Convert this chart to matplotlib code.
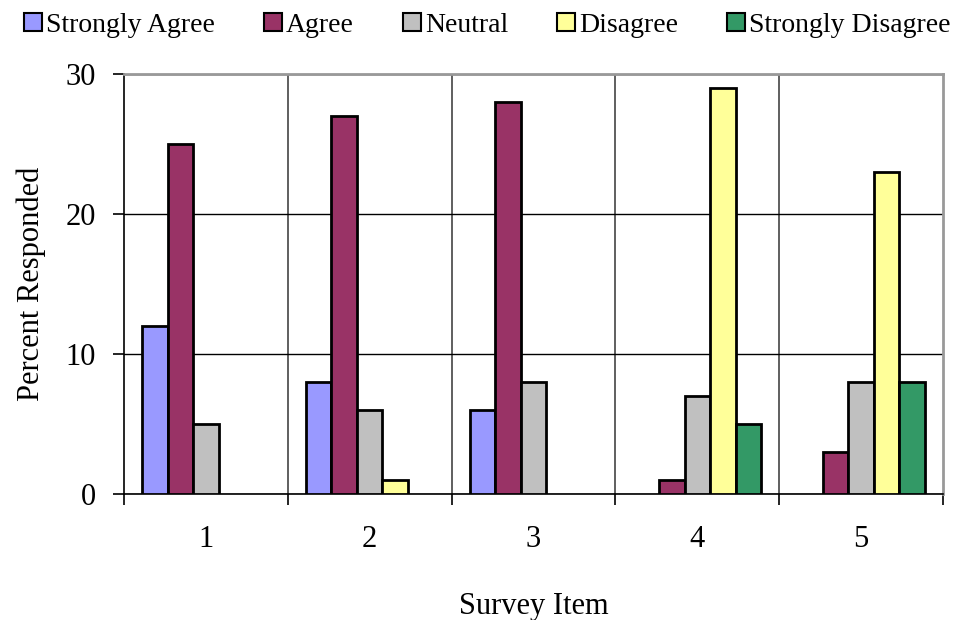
import matplotlib.pyplot as plt
import numpy as np
from matplotlib.patches import Patch

plt.rcParams['font.family'] = ['Liberation Serif', 'DejaVu Serif']

items = [1, 2, 3, 4, 5]
responses = ["Strongly Agree", "Agree", "Neutral", "Disagree", "Strongly Disagree"]
strongly_agree = [12, 8, 6, 0, 0]
agree = [25, 27, 28, 1, 3]
neutral = [5, 6, 8, 7, 8]
disagree = [0, 1, 0, 29, 23]
strongly_disagree = [0, 0, 0, 5, 8]
colors = ["#9999FF", "#993366", "#C0C0C0", "#FFFF99", "#339966"]

series = [strongly_agree, agree, neutral, disagree, strongly_disagree]

fig = plt.figure(figsize=(9.63, 6.2), dpi=100)
ax = fig.add_axes([124/963, 1-494/620, (943-124)/963, (494-74)/620])

x = np.array(items, dtype=float)
bw = 0.156
for i, (vals, c) in enumerate(zip(series, colors)):
    vals = np.array(vals, dtype=float)
    keep = vals > 0  # empty categories show no bar outline
    ax.bar(x[keep] + (i-2)*bw, vals[keep], bw, color=c, edgecolor='black', linewidth=2, zorder=3)

ax.set_xlim(0.5, 5.5)
ax.set_ylim(0, 30)
ax.set_yticks([0, 10, 20, 30])
ax.set_xticks(items)
ax.set_xticks(np.arange(0.5, 5.6, 1), minor=True)
ax.tick_params(axis='x', which='major', length=0, pad=22, labelsize=22)
ax.tick_params(axis='x', which='minor', length=8, width=1.2, direction='out')
ax.tick_params(axis='y', length=8, width=1.2, pad=12, labelsize=22)

ax.grid(axis='y', color='black', linewidth=1, zorder=0)
for b in [1.5, 2.5, 3.5, 4.5]:
    ax.axvline(b, color='#444444', linewidth=1.2, zorder=0)

ax.spines['top'].set_color('#999999')
ax.spines['right'].set_color('#999999')
ax.spines['top'].set_linewidth(2)
ax.spines['right'].set_linewidth(2)
ax.spines['left'].set_linewidth(1.2)
ax.spines['bottom'].set_linewidth(1.2)

ax.set_ylabel("Percent Responded", fontsize=22, labelpad=14)
ax.set_xlabel("Survey Item", fontsize=22, labelpad=28)

handles = [Patch(facecolor=c, edgecolor='black', linewidth=1.5) for c in colors]
fig.legend(handles, responses, loc='upper center', bbox_to_anchor=(0.506, 1.02), ncol=5,
           frameon=False, fontsize=20, handlelength=0.65, handleheight=0.65,
           handletextpad=0.15, columnspacing=1.75)

fig.savefig("out.png", dpi=100)
